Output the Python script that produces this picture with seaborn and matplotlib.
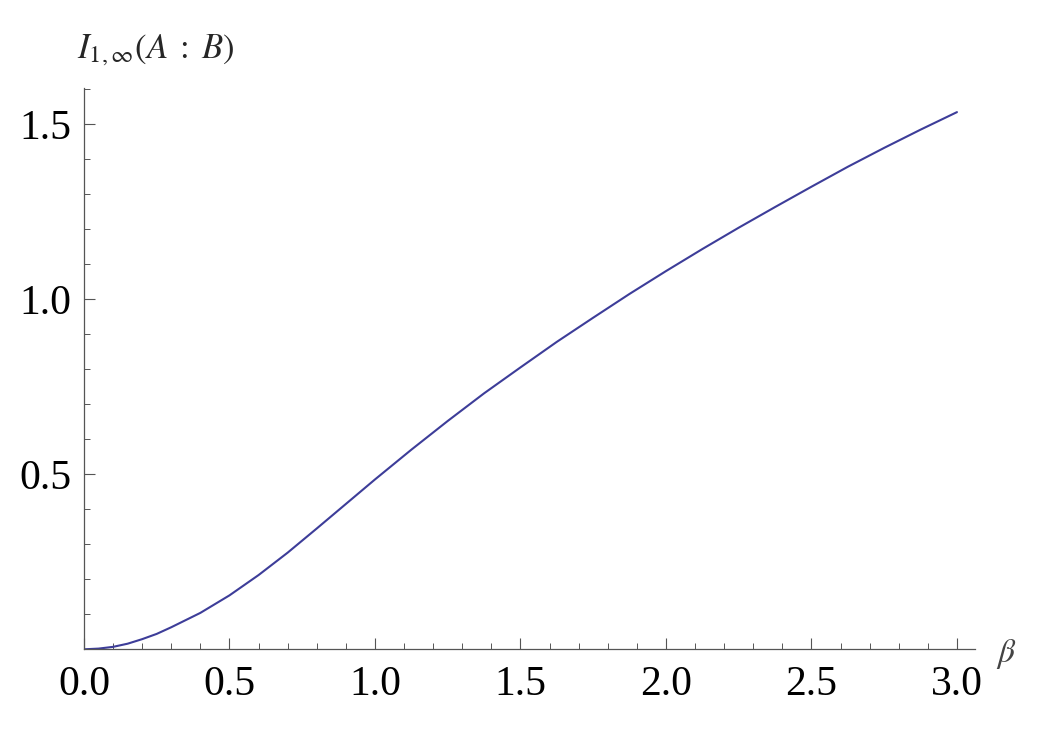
import matplotlib
matplotlib.use("Agg")
import matplotlib.pyplot as plt
from matplotlib.ticker import MultipleLocator
import seaborn as sns

# values
beta = [0.0, 0.05, 0.1, 0.15, 0.2, 0.25, 0.3, 0.4, 0.5, 0.6, 0.7, 0.8, 0.9, 1.0,
        1.125, 1.25, 1.375, 1.5, 1.625, 1.75, 1.875, 2.0, 2.125, 2.25, 2.375,
        2.5, 2.625, 2.75, 2.875, 3.0]
info = [0.0, 0.002, 0.007, 0.016, 0.029, 0.044, 0.063, 0.104, 0.154, 0.212, 0.276, 0.345, 0.415, 0.485,
        0.570, 0.652, 0.731, 0.805, 0.878, 0.947, 1.015, 1.080, 1.143, 1.204, 1.263,
        1.321, 1.378, 1.432, 1.484, 1.534]

x_ticks = [0.0, 0.5, 1.0, 1.5, 2.0, 2.5, 3.0]
y_ticks = [0.5, 1.0, 1.5]

sns.set_style("ticks")
plt.rcParams["font.family"] = ["Liberation Serif", "DejaVu Serif"]
plt.rcParams["mathtext.fontset"] = "stix"

fig = plt.figure(figsize=(10.39, 7.43), dpi=100)
ax = fig.add_axes([0.0808, 0.1261, 0.8576, 0.7555])

sns.lineplot(x=beta, y=info, ax=ax, color="#3d3d99", linewidth=1.5)

ax.set_xlim(0, 3.062)
ax.set_ylim(0, 1.603)
ax.set_xticks(x_ticks)
ax.set_xticklabels([f"{t:.1f}" for t in x_ticks])
ax.set_yticks(y_ticks)
ax.set_yticklabels([f"{t:.1f}" for t in y_ticks])
ax.xaxis.set_minor_locator(MultipleLocator(0.1))
ax.yaxis.set_minor_locator(MultipleLocator(0.1))

axis_grey = "#555555"
for side in ["top", "right"]:
    ax.spines[side].set_visible(False)
for side in ["left", "bottom"]:
    ax.spines[side].set_color(axis_grey)
    ax.spines[side].set_linewidth(0.9)

ax.tick_params(which="major", direction="in", length=8, width=0.8, color=axis_grey,
               labelsize=30, labelcolor="black")
ax.tick_params(axis="x", which="major", pad=12)
ax.tick_params(axis="y", which="major", pad=9)
ax.tick_params(which="minor", direction="in", length=4.5, width=0.7, color=axis_grey)
ax.set_xlabel("")
ax.set_ylabel("")

fig.text(0.074, 0.933, r"$I_{1,\infty}(A\;:\;B)$", fontsize=25, ha="left", va="center")
fig.text(0.968, 0.120, r"$\beta$", fontsize=24, ha="center", va="center", color="#444444")

fig.savefig("out.png", dpi=100, facecolor="white")
